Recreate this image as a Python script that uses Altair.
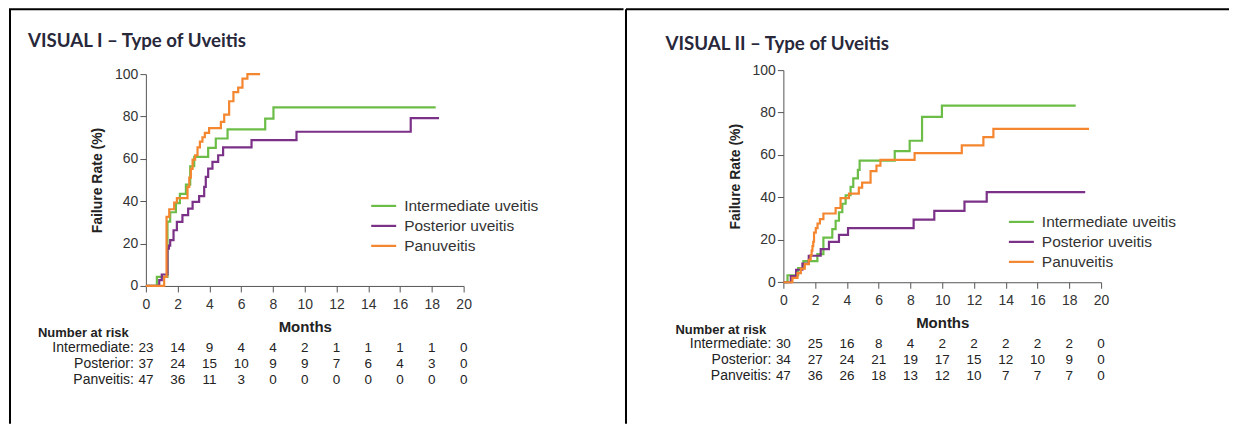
import altair as alt
import pandas as pd

# ---------------- data ----------------
SERIES = ["Intermediate uveitis", "Posterior uveitis", "Panuveitis"]
COLORS = ["#6cbd47", "#7b3187", "#f4862f"]
MONTH_TICKS = list(range(0, 21, 2))
PCT_TICKS = [0, 20, 40, 60, 80, 100]
RISK_ROWS = ["Intermediate:", "Posterior:", "Panveitis:"]
RISK_MONTHS = list(range(0, 21, 2))

TITLE_1 = "VISUAL I – Type of Uveitis"
TITLE_2 = "VISUAL II – Type of Uveitis"

# VISUAL I curves (month, failure %)
V1_INT_T = [0, 0.69, 1.36, 1.53, 1.89, 2.14, 2.52, 2.79, 3.04, 3.92, 4.40, 5.14, 7.51, 8.03, 18.24]
V1_INT_P = [0, 4.3, 30.4, 34.8, 39.1, 43.5, 47.8, 56.5, 60.9, 65.2, 69.6, 73.9, 79.0, 84.3, 84.3]
V1_POS_T = [0, 0.84, 1.0, 1.36, 1.45, 1.53, 1.74, 1.95, 2.3, 2.66, 2.94, 3.35, 3.67, 3.77, 3.92,
            4.19, 4.55, 4.86, 6.65, 9.48, 16.67, 18.45]
V1_POS_P = [0, 2.7, 5.4, 17.6, 19.0, 21.6, 26.3, 30.2, 33.4, 36.5, 39.7, 42.4, 46.8, 51.5, 55.4,
            58.6, 61.7, 65.4, 68.8, 72.8, 79.2, 79.2]
V1_PAN_T = [0, 1.15, 1.30, 1.47, 1.78, 1.95, 2.62, 2.73, 2.83, 2.94, 3.10, 3.25, 3.40, 3.56, 3.71,
            3.98, 4.72, 4.93, 5.24, 5.51, 5.81, 6.08, 6.39, 7.19]
V1_PAN_P = [0, 4.3, 32.6, 36.2, 39.4, 41.5, 46.8, 51.1, 55.3, 59.6, 61.7, 65.4, 68.1, 70.2, 72.3,
            74.5, 77.5, 80.9, 87.2, 91.5, 93.6, 97.9, 100, 100]

# VISUAL II curves
V2_INT_T = [0, 0.26, 0.93, 1.26, 2.14, 2.52, 3.08, 3.29, 3.50, 3.71, 3.92, 4.23, 4.40, 4.69, 4.80,
            7.01, 7.95, 8.73, 9.98, 18.4]
V2_INT_P = [0, 3.3, 6.7, 10.0, 13.3, 21.0, 25.0, 29.0, 33.0, 37.0, 41.0, 45.0, 49.0, 53.0, 57.3,
            61.8, 66.7, 78.0, 83.3, 83.3]
V2_POS_T = [0, 0.47, 0.8, 1.2, 1.6, 2.35, 2.87, 3.5, 4.07, 8.2, 9.5, 11.4, 12.8, 19.0]
V2_POS_P = [0, 2.9, 5.9, 8.8, 12.5, 15.6, 19.0, 22.3, 25.5, 29.5, 33.6, 38.0, 42.5, 42.5]
V2_PAN_T = [0, 0.57, 0.89, 1.1, 1.35, 1.6, 1.72, 1.78, 1.83, 1.88, 1.93, 2.04, 2.15, 2.3, 2.52,
            3.29, 3.60, 4.13, 4.75, 4.96, 5.49, 5.86, 6.11, 8.26, 11.23, 12.59, 13.22, 19.24]
V2_PAN_P = [0, 2.1, 4.3, 6.4, 8.5, 10.6, 12.8, 14.9, 17.0, 19.1, 23.4, 25.5, 27.7, 29.8, 32.4,
            35.0, 39.7, 41.8, 44.6, 47.0, 52.4, 55.0, 57.7, 60.9, 64.5, 68.4, 72.3, 72.3]

# Number at risk
V1_RISK_INT = [23, 14, 9, 4, 4, 2, 1, 1, 1, 1, 0]
V1_RISK_POS = [37, 24, 15, 10, 9, 9, 7, 6, 4, 3, 0]
V1_RISK_PAN = [47, 36, 11, 3, 0, 0, 0, 0, 0, 0, 0]
V2_RISK_INT = [30, 25, 16, 8, 4, 2, 2, 2, 2, 2, 0]
V2_RISK_POS = [34, 27, 24, 21, 19, 17, 15, 12, 10, 9, 0]
V2_RISK_PAN = [47, 36, 26, 18, 13, 12, 10, 7, 7, 7, 0]

FONT = "Liberation Sans"
W, H = 318, 212


def curves_df(curves):
    rows = []
    for name, (ts, ps) in zip(SERIES, curves):
        for t, p in zip(ts, ps):
            rows.append({"series": name, "t": t, "pct": p})
    return pd.DataFrame(rows)


def risk_df(risks):
    rows = []
    for label, counts in zip(RISK_ROWS, risks):
        for m, c in zip(RISK_MONTHS, counts):
            rows.append({"row": label, "t": m, "count": str(c)})
    return pd.DataFrame(rows)


def one(text):
    return pd.DataFrame({"t": [text]})


def panel(title, curves, risks, dy, bottom, legend_xy, title_y, left_x, right_x, border_x):
    # dy: vertical shift of the plot frame within the panel; bottom: y of the zero line
    top_y = -65
    x_axis = alt.Axis(values=MONTH_TICKS, title="Months", format="d", offset=bottom - H)
    x_scale = alt.Scale(domain=[0, 20], nice=False)
    df = curves_df(curves)
    lines = alt.Chart(df).mark_line(interpolate="step-after", strokeWidth=2.2).encode(
        x=alt.X("t:Q", scale=x_scale, axis=x_axis),
        y=alt.Y("pct:Q", scale=alt.Scale(domain=[0, 100], nice=False, range=[bottom, dy]),
                axis=alt.Axis(values=PCT_TICKS, title="Failure Rate (%)", format="d",
                              titlePadding=10)),
        color=alt.Color("series:N", scale=alt.Scale(domain=SERIES, range=COLORS),
                        legend=alt.Legend(title=None, orient="none",
                                          legendX=legend_xy[0], legendY=legend_xy[1],
                                          symbolType="M-1.25,0H1.25", symbolSize=400,
                                          symbolStrokeWidth=2.2, symbolOffset=0,
                                          labelFont=FONT, labelFontSize=15.5,
                                          labelColor="#333333", labelOffset=9,
                                          rowPadding=0, padding=0)),
    )
    rdf = risk_df(risks)
    row_scale = alt.Scale(domain=RISK_ROWS, range=[bottom + 62, bottom + 94], padding=0)
    counts = alt.Chart(rdf).mark_text(font=FONT, fontSize=13.5, color="#222222",
                                      align="center", baseline="middle").encode(
        x=alt.X("t:Q", scale=x_scale, axis=x_axis),
        y=alt.Y("row:N", scale=row_scale, axis=None),
        text="count:N",
    )
    labels = alt.Chart(pd.DataFrame({"row": RISK_ROWS})).mark_text(
        font=FONT, fontSize=14, color="#222222", align="right", baseline="middle").encode(
        x=alt.value(-12),
        y=alt.Y("row:N", scale=row_scale, axis=None),
        text="row:N",
    )
    nar = alt.Chart(one("Number at risk")).mark_text(
        font=FONT, fontSize=13, fontWeight="bold", color="#222222",
        align="left", baseline="middle").encode(
        x=alt.value(-108), y=alt.value(bottom + 47.5), text="t:N")
    ttl = alt.Chart(one(title)).mark_text(
        font="Lato", fontSize=18.7, fontWeight="bold", color="#28283a",
        align="left", baseline="middle").encode(
        x=alt.value(-118), y=alt.value(title_y), text="t:N")
    top = alt.Chart(one("")).mark_rule(color="black", strokeWidth=2).encode(
        x=alt.value(left_x), x2=alt.value(right_x), y=alt.value(top_y))
    side = alt.Chart(one("")).mark_rule(color="black", strokeWidth=2).encode(
        x=alt.value(border_x), y=alt.value(top_y), y2=alt.value(350))
    return alt.layer(top, side, lines, counts, labels, nar, ttl).resolve_scale(
        y="independent").properties(width=W, height=H)


p1 = panel(TITLE_1,
           [(V1_INT_T, V1_INT_P), (V1_POS_T, V1_POS_P), (V1_PAN_T, V1_PAN_P)],
           [V1_RISK_INT, V1_RISK_POS, V1_RISK_PAN],
           0, 212, (226.5, 120.4), -33, -137, 478, -136)
p2 = panel(TITLE_2,
           [(V2_INT_T, V2_INT_P), (V2_POS_T, V2_POS_P), (V2_PAN_T, V2_PAN_P)],
           [V2_RISK_INT, V2_RISK_POS, V2_RISK_PAN],
           -4, 208.3, (226.7, 136.4), -30.5, -157.5, 446, -157.5)

chart = alt.hconcat(p1, p2, spacing=0).resolve_scale(color="independent").resolve_legend(
    color="independent").properties(padding=0, background="white").configure_view(
    stroke=None).configure_axis(
    grid=False, domainColor="#555555", tickColor="#555555", tickSize=6,
    labelFont=FONT, labelFontSize=14, labelColor="#333333", labelPadding=3,
    labelFlush=False, labelOverlap=False,
    titleFont=FONT, titleFontWeight="bold", titleColor="#222222").configure_axisX(
    titleFontSize=15, titlePadding=8, labelPadding=5.5).configure_axisY(
    titleFontSize=14, labelPadding=2)

chart.save("out.html", embed_options={"renderer": "svg", "actions": False})
